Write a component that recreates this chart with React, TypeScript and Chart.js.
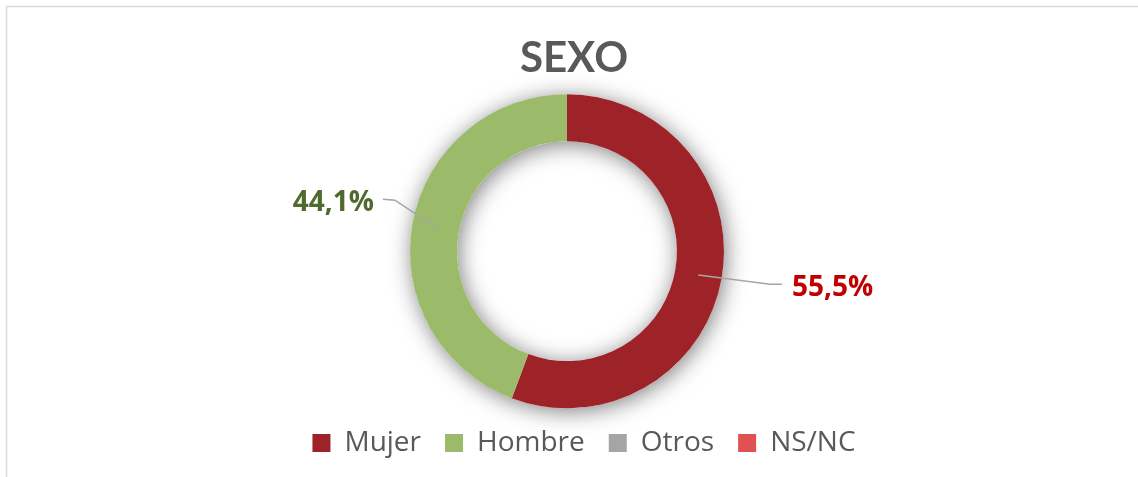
import React, { useEffect, useRef } from 'react';
import { Chart, registerables } from 'chart.js';

Chart.register(...registerables);

const categories = ['Mujer', 'Hombre', 'Otros', 'NS/NC'];
const values = [55.5, 44.1, 0, 0];
const valueLabels = ['55,5%', '44,1%', '', ''];
const sliceColors = ['#9e2328', '#9bbb6b', '#a5a5a5', '#e05252'];
const labelColors = ['#c00000', '#4f6a2c', '#7f7f7f', '#e05252'];
const titleText = 'SEXO';

export default function App() {
  const ref = useRef<HTMLCanvasElement>(null);

  useEffect(() => {
    document.body.style.margin = '0';
    const canvas = ref.current;
    if (!canvas) return;

    const framePlugin = {
      id: 'frame',
      beforeDraw(chart: any) {
        const ctx = chart.ctx;
        ctx.save();
        ctx.fillStyle = '#ffffff';
        ctx.fillRect(0, 0, chart.width, chart.height);
        ctx.strokeStyle = '#d9d9d9';
        ctx.lineWidth = 1.5;
        ctx.strokeRect(6.5, 6.5, chart.width + 50, chart.height + 50);
        ctx.restore();
      },
    };

    const shiftPlugin = {
      id: 'shift',
      afterLayout(chart: any) {
        if (chart.titleBlock) {
          chart.titleBlock.left = 10;
          chart.titleBlock.right = chart.width;
        }
        if (chart.legend) {
          chart.legend.left = 34;
          chart.legend.right = chart.width - 4;
        }
      },
    };

    const shadowPlugin = {
      id: 'ringShadow',
      beforeDatasetsDraw(chart: any) {
        const meta = chart.getDatasetMeta(0);
        const arc = meta.data[0];
        if (!arc) return;
        const { x, y, innerRadius, outerRadius } = arc.getProps(['x', 'y', 'innerRadius', 'outerRadius']);
        const ctx = chart.ctx;
        ctx.save();
        ctx.shadowColor = 'rgba(0,0,0,0.5)';
        ctx.shadowBlur = 22;
        ctx.shadowOffsetX = 2;
        ctx.shadowOffsetY = 3;
        ctx.fillStyle = '#ffffff';
        ctx.beginPath();
        ctx.arc(x, y, outerRadius, 0, Math.PI * 2);
        ctx.arc(x, y, innerRadius, 0, Math.PI * 2, true);
        ctx.closePath();
        ctx.fill();
        ctx.restore();
      },
    };

    const labelPlugin = {
      id: 'leaderLabels',
      afterDatasetsDraw(chart: any, _args: any, opts: any) {
        const meta = chart.getDatasetMeta(0);
        const ctx = chart.ctx;
        const first = meta.data[0];
        const cx = first.x;
        const cy = first.y;
        meta.data.forEach((el: any, i: number) => {
          const text = valueLabels[i];
          const lay = opts.layout[i];
          if (!text || !lay) return;
          const p = el.getCenterPoint();
          ctx.save();
          ctx.strokeStyle = '#a6a6a6';
          ctx.lineWidth = 1.6;
          ctx.beginPath();
          ctx.moveTo(p.x, p.y);
          ctx.lineTo(cx + lay.elbow[0], cy + lay.elbow[1]);
          ctx.lineTo(cx + lay.end[0], cy + lay.end[1]);
          ctx.stroke();
          ctx.font = 'bold 28px "Open Sans"';
          ctx.fillStyle = labelColors[i];
          ctx.textAlign = lay.align;
          ctx.textBaseline = 'alphabetic';
          ctx.fillText(text, cx + lay.text[0], cy + lay.text[1]);
          ctx.restore();
        });
      },
    };

    const chart = new Chart(canvas, {
      type: 'doughnut',
      data: {
        labels: categories,
        datasets: [
          {
            data: values,
            backgroundColor: sliceColors,
            borderWidth: 0,
          },
        ],
      },
      options: {
        responsive: false,
        animation: false,
        radius: 157,
        cutout: '70%',
        layout: { padding: { left: 0, right: 4, top: 0, bottom: 10 } },
        plugins: {
          title: {
            display: true,
            text: titleText,
            color: '#595959',
            font: { family: 'Lato', size: 42, weight: 'bold', lineHeight: 1.2 },
            padding: { top: 33, bottom: 14 },
          },
          legend: {
            display: true,
            position: 'bottom',
            labels: {
              boxWidth: 18,
              boxHeight: 18,
              color: '#595959',
              font: { family: '"Open Sans"', size: 28 },
              padding: 24,
            },
          },
          tooltip: { enabled: false },
          leaderLabels: {
            layout: [
              { elbow: [203, 33], end: [215, 33], text: [225, 45], align: 'left' },
              { elbow: [-172, -51], end: [-184, -52], text: [-193, -40], align: 'right' },
            ],
          },
        },
      } as any,
      plugins: [framePlugin, shiftPlugin, shadowPlugin, labelPlugin],
    });

    return () => chart.destroy();
  }, []);

  return (
    <div style={{ width: 1138, height: 477 }}>
      <canvas ref={ref} width={1138} height={477} style={{ display: 'block' }} />
    </div>
  );
}
